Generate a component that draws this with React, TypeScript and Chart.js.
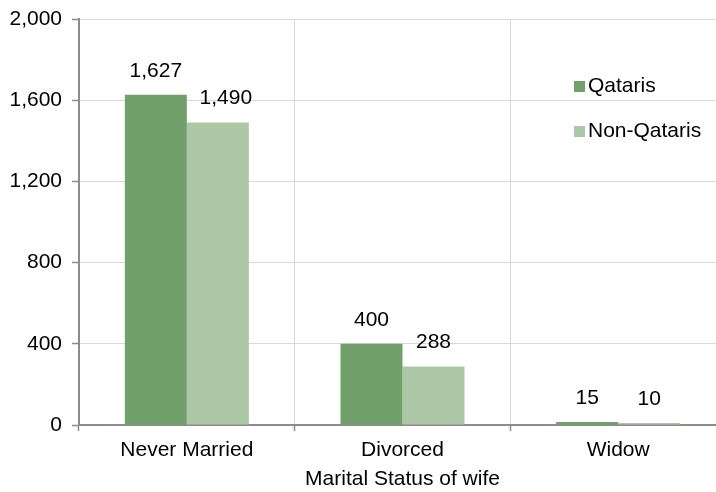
import React, { useEffect, useRef } from "react";
import { Chart, registerables } from "chart.js";

Chart.register(...registerables);

const categories = ["Never Married", "Divorced", "Widow"];
const qataris = [1627, 400, 15];
const nonQataris = [1490, 288, 10];
const seriesNames = ["Qataris", "Non-Qataris"];
const yTicks = [0, 400, 800, 1200, 1600, 2000];
const xTitle = "Marital Status of wife";

const FONT = "'Liberation Sans', Arial, sans-serif";
const DARK = "#72A06A";
const LIGHT = "#ABC7A5";

// horizontal nudge (px) for individual value labels: [datasetIndex][categoryIndex]
const LABEL_NUDGE: number[][] = [
  [0, 0, 0],
  [8, 0, 0],
];

const valueLabels = {
  id: "valueLabels",
  afterDatasetsDraw(chart: any) {
    const ctx = chart.ctx;
    ctx.save();
    ctx.font = `21px ${FONT}`;
    ctx.fillStyle = "#000";
    ctx.textAlign = "center";
    ctx.textBaseline = "middle";
    chart.data.datasets.forEach((ds: any, i: number) => {
      const meta = chart.getDatasetMeta(i);
      meta.data.forEach((bar: any, j: number) => {
        const v = ds.data[j] as number;
        const dx = (LABEL_NUDGE[i] && LABEL_NUDGE[i][j]) || 0;
        ctx.fillText(v.toLocaleString("en-US"), bar.x + dx, bar.y - 24);
      });
    });
    ctx.restore();
  },
};

const customLegend = {
  id: "customLegend",
  afterDraw(chart: any) {
    const ctx = chart.ctx;
    ctx.save();
    ctx.font = `21px ${FONT}`;
    ctx.textAlign = "left";
    ctx.textBaseline = "middle";
    chart.data.datasets.forEach((ds: any, i: number) => {
      const y = 86 + i * 45;
      ctx.fillStyle = ds.backgroundColor;
      ctx.fillRect(574, y - 5, 11, 11);
      ctx.fillStyle = "#000";
      ctx.fillText(ds.label, 588, y);
    });
    ctx.restore();
  },
};

export default function App() {
  const ref = useRef<HTMLCanvasElement | null>(null);
  useEffect(() => {
    if (!ref.current) return;
    const chart = new Chart(ref.current, {
      type: "bar",
      data: {
        labels: categories,
        datasets: [
          {
            label: seriesNames[0],
            data: qataris,
            backgroundColor: DARK,
            categoryPercentage: 0.575,
            barPercentage: 1,
          },
          {
            label: seriesNames[1],
            data: nonQataris,
            backgroundColor: LIGHT,
            categoryPercentage: 0.575,
            barPercentage: 1,
          },
        ],
      },
      options: {
        responsive: false,
        animation: false,
        layout: { padding: { top: 19, left: 0, right: 0, bottom: 0 } },
        plugins: {
          legend: { display: false },
          tooltip: { enabled: false },
        },
        scales: {
          x: {
            grid: {
              offset: true,
              color: "#d9d9d9",
              lineWidth: 1,
              tickColor: "#8c8c8c",
              tickLength: 6,
              tickWidth: 1.5,
            },
            border: { color: "#8c8c8c", width: 2 },
            ticks: {
              color: "#000",
              font: { family: FONT, size: 21 },
              padding: 7,
              maxRotation: 0,
            },
            title: {
              display: true,
              text: xTitle,
              color: "#000",
              font: { family: FONT, size: 21 },
              padding: { top: 4, bottom: 0 },
            },
            afterFit(scale: any) {
              scale.height = 67;
              scale.paddingLeft = 0;
              scale.paddingRight = 0;
            },
          },
          y: {
            min: 0,
            max: 2000,
            afterBuildTicks(scale: any) {
              scale.ticks = yTicks.map((v) => ({ value: v }));
            },
            grid: {
              color: "#d9d9d9",
              lineWidth: 1,
              tickColor: "#8c8c8c",
              tickLength: 7,
              tickWidth: 1.5,
            },
            border: { color: "#8c8c8c", width: 2 },
            ticks: {
              color: "#000",
              font: { family: FONT, size: 21 },
              padding: 10,
              callback: (v: any) => Number(v).toLocaleString("en-US"),
            },
            afterFit(scale: any) {
              scale.width = 79;
              scale.paddingTop = 5;
              scale.paddingBottom = 5;
            },
          },
        },
      },
      plugins: [valueLabels, customLegend],
    });
    return () => chart.destroy();
  }, []);
  return (
    <div
      style={{
        position: "fixed",
        left: 0,
        top: 0,
        width: 716,
        height: 492,
        overflow: "hidden",
        background: "#fff",
      }}
    >
      <canvas ref={ref} width={726} height={492} style={{ display: "block" }} />
    </div>
  );
}
